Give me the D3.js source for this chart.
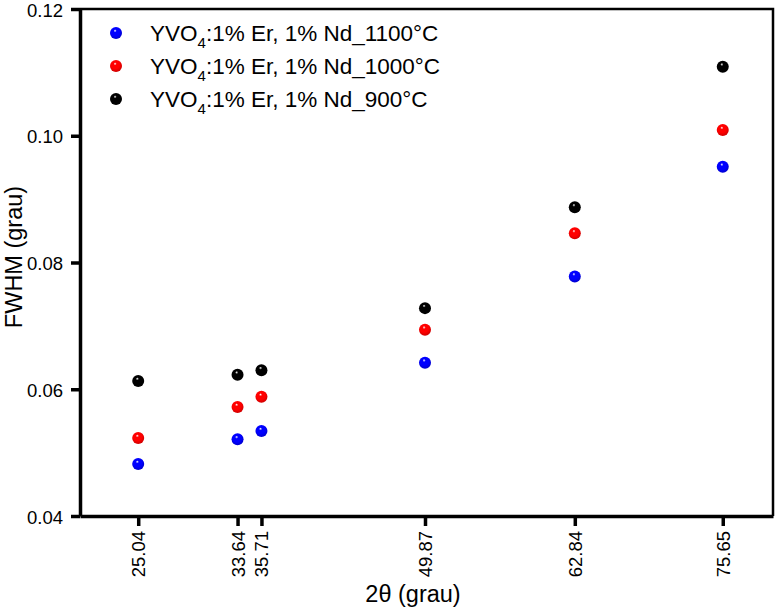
<!DOCTYPE html>
<html>
<head>
<meta charset="utf-8">
<script src="https://cdn.jsdelivr.net/npm/d3@7"></script>
<style>
  body { margin: 0; background: #fff; }
  text { font-family: "Liberation Sans", Arial, sans-serif; fill: #000; }
</style>
</head>
<body>
<div id="chart"></div>
<script>
// data
const angles = [25.04, 33.64, 35.71, 49.87, 62.84, 75.65];
const fwhm1100 = [0.0482, 0.0521, 0.0534, 0.0642, 0.0778, 0.0951];
const fwhm1000 = [0.0523, 0.0572, 0.0588, 0.0694, 0.0846, 0.1009];
const fwhm900  = [0.0613, 0.0623, 0.0630, 0.0728, 0.0887, 0.1109];
const seriesNames = ['1100°C', '1000°C', '900°C'];
const seriesColors = ['#0000ff', '#ff0000', '#000000'];
const yTicks = [0.04, 0.06, 0.08, 0.10, 0.12];

const width = 776, height = 611;
const margin = {top: 9, right: 3, bottom: 95, left: 80};
const innerW = width - margin.left - margin.right;
const innerH = height - margin.top - margin.bottom;

const svg = d3.select('#chart').append('svg')
  .attr('width', width).attr('height', height);

// shiny sphere gradients
const defs = svg.append('defs');
seriesColors.forEach((c, i) => {
  const g = defs.append('radialGradient').attr('id', 'ball' + i)
    .attr('cx', '45%').attr('cy', '40%').attr('r', '60%')
    .attr('fx', '42%').attr('fy', '30%');
  g.append('stop').attr('offset', '0%').attr('stop-color', '#fff');
  g.append('stop').attr('offset', '22%').attr('stop-color', d3.color(c).brighter(i === 2 ? 0 : 0.4).formatHex());
  g.append('stop').attr('offset', '60%').attr('stop-color', c);
  g.append('stop').attr('offset', '100%').attr('stop-color', d3.color(c).darker(0.6).formatHex());
});

const g = svg.append('g').attr('transform', `translate(${margin.left},${margin.top})`);

const x = d3.scaleLinear().domain([20, 80]).range([0, innerW]);
const y = d3.scaleLinear().domain([0.04, 0.12]).range([innerH, 0]);

// frame (top and right)
g.append('path')
  .attr('d', `M0,0H${innerW}V${innerH}`)
  .attr('fill', 'none').attr('stroke', '#000').attr('stroke-width', 2.5);

// axes
const xAxis = g.append('g').attr('transform', `translate(0,${innerH})`)
  .call(d3.axisBottom(x).tickValues(angles).tickSize(10).tickSizeOuter(0).tickFormat(d3.format('.2f')));
xAxis.selectAll('.tick text')
  .attr('transform', 'rotate(-90)')
  .attr('text-anchor', 'end')
  .attr('x', -15).attr('y', 0).attr('dy', '0.35em')
  .style('font-size', '18.5px');

const yAxis = g.append('g')
  .call(d3.axisLeft(y).tickValues(yTicks).tickSize(9).tickSizeOuter(0).tickFormat(d3.format('.2f')));
yAxis.selectAll('.tick text').attr('x', -17).attr('dy', '0.38em').style('font-size', '18.5px');

[xAxis, yAxis].forEach(a => {
  a.select('.domain').attr('stroke-width', 3.5);
  a.selectAll('.tick line').attr('stroke-width', 3.5);
});

// axis titles
svg.append('text')
  .attr('x', 413).attr('y', 602)
  .attr('text-anchor', 'middle').style('font-size', '23.5px')
  .text('2θ (grau)');
svg.append('text')
  .attr('transform', 'translate(22,257) rotate(-90)')
  .attr('text-anchor', 'middle').style('font-size', '23.5px')
  .text('FWHM (grau)');

// points
const allSeries = [fwhm1100, fwhm1000, fwhm900];
allSeries.forEach((vals, i) => {
  g.append('g').selectAll('circle').data(vals).join('circle')
    .attr('cx', (d, j) => x(angles[j]))
    .attr('cy', d => y(d))
    .attr('r', 6)
    .attr('fill', `url(#ball${i})`);
});

// legend
const legend = svg.append('g');
seriesNames.forEach((name, i) => {
  const row = legend.append('g').attr('transform', `translate(116,${33 + i * 33})`);
  row.append('circle').attr('r', 6).attr('fill', `url(#ball${i})`);
  const t = row.append('text').attr('x', 34).attr('dy', '0.35em').style('font-size', '22.5px');
  t.append('tspan').text('YVO');
  t.append('tspan').attr('dy', 7).style('font-size', '15px').text('4');
  t.append('tspan').attr('dy', -7).text(':1% Er, 1% Nd_' + name);
});
</script>
</body>
</html>
